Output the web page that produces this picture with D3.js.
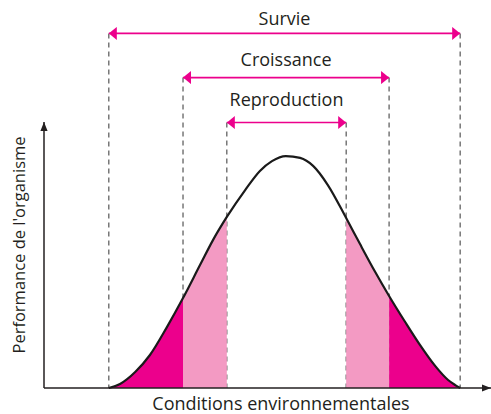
<!DOCTYPE html>
<meta charset="utf-8">
<style>

body {
  margin: 0;
  background: #fff;
  font-family: "Open Sans", sans-serif;
}

.axis-line {
  fill: none;
  stroke: #231f20;
  stroke-width: 1.5;
}

.guide {
  stroke: #555;
  stroke-width: 1.2;
  stroke-dasharray: 5,4;
}

.range-line {
  stroke: #ec008c;
  stroke-width: 1.6;
}

.label {
  fill: #231f20;
  font-size: 18px;
  text-anchor: middle;
}

</style>
<body>
<script src="https://d3js.org/d3.v7.min.js"></script>
<script>

// ranges (conditions, 0-100)
var zones = ["Survie", "Croissance", "Reproduction"],
    zoneStart = [14.5, 31.1, 40.9],
    zoneEnd = [93.1, 77.2, 67.6],
    zoneLevel = [133.3, 116.7, 99.8];   // height of the arrow, same units as performance

// performance curve
var curveX = [14.5, 17.0, 20.4, 23.7, 27.5, 31.1, 34.9, 37.8, 40.9, 45.0, 48.3, 51.0, 54.1,
              57.3, 60.2, 63.5, 67.6, 70.7, 74.1, 77.2, 80.8, 84.1, 87.5, 90.4, 92.0, 93.1],
    curveY = [0, 1.5, 6.0, 12.4, 22.9, 33.8, 46.2, 55.6, 64.3, 74.4, 81.6, 85.3, 87.2,
              86.5, 83.5, 76.3, 63.9, 54.1, 43.6, 34.6, 24.8, 16.2, 8.3, 3.0, 1.1, 0];

var width = 491, height = 414;
var labelGap = [8, 12, 17];

var x = d3.scaleLinear().domain([0, 100]).range([44, 491]);
var y = d3.scaleLinear().domain([0, 100]).range([388, 122]);

var svg = d3.select("body").append("svg")
    .attr("width", width)
    .attr("height", height);

var points = curveX.map(function(d, i) { return [d, curveY[i]]; });

var defs = svg.append("defs");

defs.append("marker")
    .attr("id", "head")
    .attr("viewBox", "0 0 10 10")
    .attr("refX", 10).attr("refY", 5)
    .attr("markerWidth", 8).attr("markerHeight", 13)
    .attr("markerUnits", "userSpaceOnUse")
    .attr("preserveAspectRatio", "none")
    .attr("orient", "auto-start-reverse")
  .append("path")
    .attr("d", "M0,0L10,5L0,10Z")
    .attr("fill", "#ec008c");

defs.append("marker")
    .attr("id", "axishead")
    .attr("viewBox", "0 0 10 10")
    .attr("refX", 10).attr("refY", 5)
    .attr("markerWidth", 9).attr("markerHeight", 9)
    .attr("markerUnits", "userSpaceOnUse")
    .attr("orient", "auto")
  .append("path")
    .attr("d", "M0,1L10,5L0,9Z")
    .attr("fill", "#231f20");

// clip regions for the shaded bands
var dark = defs.append("clipPath").attr("id", "clip-dark");
[[zoneStart[0], zoneStart[1]], [zoneEnd[1], zoneEnd[0]]].forEach(function(r) {
  dark.append("rect")
      .attr("x", x(r[0])).attr("width", x(r[1]) - x(r[0]))
      .attr("y", 0).attr("height", height);
});
var light = defs.append("clipPath").attr("id", "clip-light");
[[zoneStart[1], zoneStart[2]], [zoneEnd[2], zoneEnd[1]]].forEach(function(r) {
  light.append("rect")
      .attr("x", x(r[0])).attr("width", x(r[1]) - x(r[0]))
      .attr("y", 0).attr("height", height);
});

// dashed guides
zones.forEach(function(z, i) {
  [zoneStart[i], zoneEnd[i]].forEach(function(v) {
    svg.append("line")
        .attr("class", "guide")
        .attr("x1", x(v)).attr("x2", x(v))
        .attr("y1", y(zoneLevel[i])).attr("y2", y(0));
  });
});

var area = d3.area()
    .x(function(d) { return x(d[0]); })
    .y0(y(0))
    .y1(function(d) { return y(d[1]); })
    .curve(d3.curveMonotoneX);

var line = d3.line()
    .x(function(d) { return x(d[0]); })
    .y(function(d) { return y(d[1]); })
    .curve(d3.curveMonotoneX);

svg.append("path")
    .datum(points)
    .attr("d", area)
    .attr("fill", "#ec008c")
    .attr("clip-path", "url(#clip-dark)");

svg.append("path")
    .datum(points)
    .attr("d", area)
    .attr("fill", "#f39ac3")
    .attr("clip-path", "url(#clip-light)");

svg.append("path")
    .datum(points)
    .attr("d", line)
    .attr("fill", "none")
    .attr("stroke", "#1a1a1a")
    .attr("stroke-width", 2.2);

// axes
svg.append("line")
    .attr("class", "axis-line")
    .attr("x1", x(0)).attr("y1", y(0))
    .attr("x2", x(0)).attr("y2", y(100))
    .attr("marker-end", "url(#axishead)");

svg.append("line")
    .attr("class", "axis-line")
    .attr("x1", x(0)).attr("y1", y(0))
    .attr("x2", x(100)).attr("y2", y(0))
    .attr("marker-end", "url(#axishead)");

// range arrows and their labels
zones.forEach(function(z, i) {
  var yy = y(zoneLevel[i]);
  svg.append("line")
      .attr("class", "range-line")
      .attr("x1", x(zoneStart[i])).attr("x2", x(zoneEnd[i]))
      .attr("y1", yy).attr("y2", yy)
      .attr("marker-start", "url(#head)")
      .attr("marker-end", "url(#head)");

  svg.append("text")
      .attr("class", "label")
      .attr("x", x((zoneStart[i] + zoneEnd[i]) / 2))
      .attr("y", yy - labelGap[i])
      .text(z);
});

svg.append("text")
    .attr("class", "label")
    .attr("x", 281)
    .attr("y", 410)
    .text("Conditions environnementales");

svg.append("text")
    .attr("class", "label")
    .style("font-size", "16.5px")
    .attr("transform", "translate(25,245) rotate(-90)")
    .text("Performance de l'organisme");

</script>
</body>
